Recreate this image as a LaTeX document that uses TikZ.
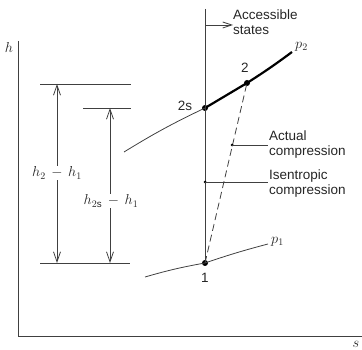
\documentclass[tikz,border=0pt]{standalone}
\usepackage{fontspec}
\setmainfont{Liberation Sans}
\usetikzlibrary{arrows.meta}
\begin{document}
\begin{tikzpicture}[x=1pt,y=-1pt,
  thinline/.style={draw=black!75,line width=0.8pt},
  thickline/.style={draw=black,line width=2.2pt},
  dimarrow/.style={thinline,-{Straight Barb[length=10pt,width=7pt]}},
  bigdot/.style={circle,fill=black,inner sep=0pt,minimum size=6pt},
  smalldot/.style={circle,fill=black,inner sep=0pt,minimum size=3pt},
  lab/.style={font=\fontsize{13.5}{15}\selectfont,inner sep=1pt,text=black!85},
  mathlab/.style={font=\fontsize{14}{16}\selectfont,inner sep=1pt,text=black!85}]
\useasboundingbox (0,0) rectangle (362,350);
% axes
\coordinate (o) at (18,336);
\coordinate (ytop) at (18,41);
\coordinate (xend) at (362,336);
\draw[thinline] (ytop) -- (o) -- (xend);
\node[mathlab] (hlab) at (9,48) {$h$};
\node[mathlab] (slab) at (356,344) {$s$};
% state points
\node[bigdot] (p1) at (205,263) {};
\node[bigdot] (p2s) at (205,108) {};
\node[bigdot] (p2) at (247,83) {};
% pressure curves
\coordinate (p2a) at (124,152);
\coordinate (p2b) at (292,52);
\coordinate (p1a) at (145,277);
\coordinate (p1b) at (268,244);
\draw[thinline] (p2a) to[bend left=3] (p2s.center);
\draw[thickline] (p2s.center) -- (p2.center) to[bend right=2] (p2b);
\draw[thinline] (p1a) to[bend left=3] (p1.center) to[bend left=2] (p1b);
\node[mathlab,anchor=west] (p2lab) at (294,47) {$p_2$};
\node[mathlab,anchor=west] (p1lab) at (270,242) {$p_1$};
% isentropic vertical line
\coordinate (vtop) at (205,9);
\draw[thinline] (vtop) -- (p1.center);
\coordinate (acc0) at (205,25);
\coordinate (acc1) at (233,25);
\draw[thinline,-{Straight Barb[length=9pt,width=6pt]}] (acc0) -- (acc1);
\node[lab,anchor=west,align=left] (acclab) at (232,22) {Accessible\\states};
% actual compression (dashed)
\draw[thinline,dashed,dash pattern=on 7pt off 4pt] (p1.center) -- (p2.center);
\node[lab] (l2s) at (185,106) {2s};
\node[lab] (l2) at (245,68) {2};
\node[lab] (l1) at (205,278) {1};
\node[smalldot] (dact) at (232,145) {};
\node[smalldot] (disen) at (205,182) {};
\node[lab,anchor=west,align=left] (actlab) at (268,145) {Actual\\compression};
\node[lab,anchor=west,align=left] (isenlab) at (268,184) {Isentropic\\compression};
\draw[thinline] (dact.center) -- (dact.center -| actlab.west);
\draw[thinline] (disen.center) -- (disen.center -| isenlab.west);
% enthalpy differences
\coordinate (t1a) at (40,84);
\coordinate (t1b) at (131,84);
\coordinate (t2a) at (83,108);
\coordinate (t2b) at (131,108);
\coordinate (b1a) at (40,263);
\coordinate (b1b) at (130,263);
\draw[thinline] (t1a) -- (t1b);
\draw[thinline] (t2a) -- (t2b);
\draw[thinline] (b1a) -- (b1b);
\node[mathlab] (dh) at (57,173) {$h_2\,-\,h_1$};
\node[mathlab] (dhs) at (111,201) {$h_{2\mathrm{s}}\,-\,h_1$};
\coordinate (a1t) at (57,84);
\coordinate (a1b) at (57,263);
\coordinate (a2t) at (110,108);
\coordinate (a2b) at (110,263);
\draw[dimarrow] (dh.north -| a1t) -- (a1t);
\draw[dimarrow] (dh.south -| a1b) -- (a1b);
\draw[dimarrow] (dhs.north -| a2t) -- (a2t);
\draw[dimarrow] (dhs.south -| a2b) -- (a2b);
\end{tikzpicture}
\end{document}
